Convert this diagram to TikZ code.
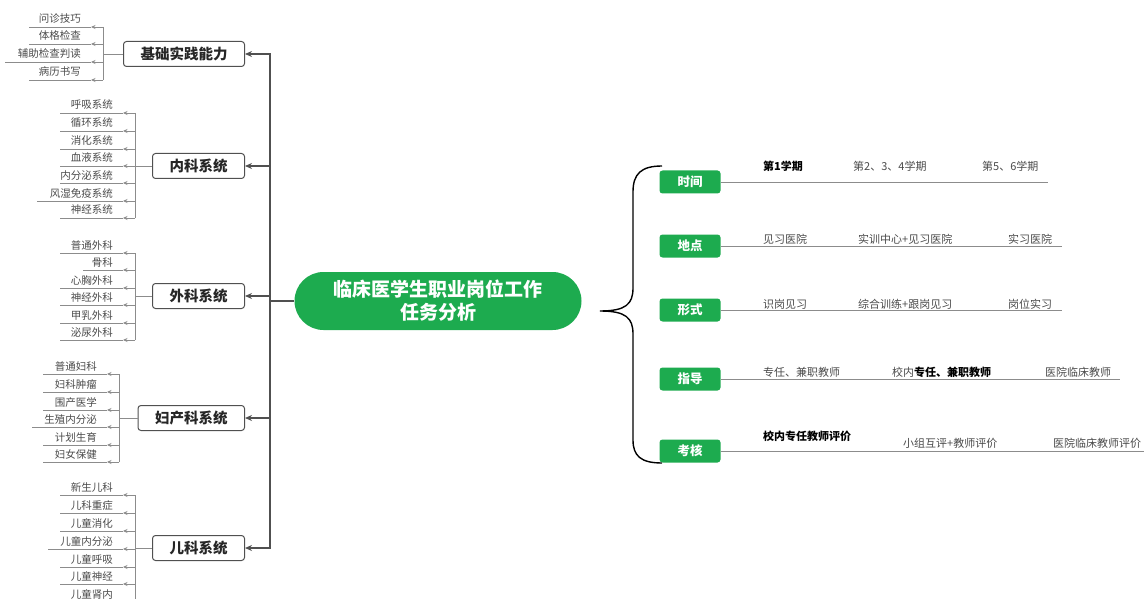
\documentclass[tikz,border=0pt]{standalone}
\usepackage{fontspec}
\setmainfont{Noto Sans CJK SC}
\usetikzlibrary{arrows.meta}
\definecolor{mmgreen}{HTML}{1DAB4F}
\definecolor{linegray}{HTML}{8C8C8C}
\definecolor{textgray}{HTML}{4A4A4A}
\definecolor{spinegray}{HTML}{505050}
\begin{document}
\begin{tikzpicture}[x=1pt,y=-1pt,
 catbox/.style={draw=spinegray, line width=1pt, rounded corners=3pt, fill=white,
   font=\fontsize{14.5}{16}\selectfont\bfseries, text=black!85, minimum height=25pt,
   inner xsep=17pt, inner ysep=0pt, anchor=east},
 leaf/.style={font=\fontsize{10.5}{12}\selectfont, text=textgray, anchor=base east, inner sep=0pt},
 leafln/.style={draw=linegray, line width=0.7pt},
 leafarr/.style={draw=linegray, line width=0.7pt, -{Stealth[length=4.5pt,width=4pt]}},
 spineln/.style={draw=spinegray, line width=1.7pt},
 spinearr/.style={draw=spinegray, line width=1.7pt, -{Stealth[length=7pt,width=6pt]}},
 tag/.style={fill=mmgreen, rounded corners=3pt, minimum width=61pt, minimum height=23pt,
   text=white, font=\fontsize{12.5}{14}\selectfont\bfseries, inner sep=0pt},
 rlabel/.style={font=\fontsize{11}{12}\selectfont, text=textgray, anchor=base west, inner sep=0pt},
 rline/.style={draw=linegray, line width=0.8pt},
]
\useasboundingbox (0,0) rectangle (1144,599);
\clip (0,0) rectangle (1144,599);

% root
\node[fill=mmgreen, rounded corners=29pt, minimum width=287pt, minimum height=58pt,
      text=white, align=center, font=\fontsize{19}{23}\selectfont\bfseries, inner sep=0pt]
  (root) at (438,301) {临床医学生职业岗位工作\\任务分析};

% category boxes
\node[catbox] (c1) at (245,54) {基础实践能力};
\node[catbox] (c2) at (245,166) {内科系统};
\node[catbox] (c3) at (245,296) {外科系统};
\node[catbox] (c4) at (245,418) {妇产科系统};
\node[catbox] (c5) at (245,548) {儿科系统};

% spine
\coordinate (sptop) at (270,54);
\coordinate (spbot) at (270,548);
\draw[spineln, line cap=rect] (sptop) -- (spbot);
\draw[spineln] (root.west) -- (root.west -| sptop);
\foreach \c in {c1,c2,c3,c4,c5}{
  \draw[spinearr] (\c.east -| sptop) -- (\c.east);
}

% group 1
\coordinate (b1) at (103,54);
\draw[leafln] (c1.west) -- (b1);
\draw[leafln] (103,27) -- (103,80);
\foreach \y/\t/\s [count=\i] in {27/问诊技巧/29,44/体格检查/29,62/辅助检查判读/5,80/病历书写/29}{
  \node[leaf] (l1-\i) at (81,\y-4) {\t};
  \draw[leafarr] (103,\y) -- (91,\y);
  \draw[leafln] (91,\y) -- (\s,\y);
}
% group 2
\coordinate (b2) at (135,166);
\draw[leafln] (c2.west) -- (b2);
\draw[leafln] (135,113) -- (135,218);
\foreach \y/\t/\s [count=\i] in {113/呼吸系统/60,131/循环系统/60,149/消化系统/60,166/血液系统/60,183/内分泌系统/60,201/风湿免疫系统/37,218/神经系统/60}{
  \node[leaf] (l2-\i) at (113,\y-4) {\t};
  \draw[leafarr] (135,\y) -- (123,\y);
  \draw[leafln] (123,\y) -- (\s,\y);
}
% group 3
\coordinate (b3) at (135,296);
\draw[leafln] (c3.west) -- (b3);
\draw[leafln] (135,253) -- (135,340);
\foreach \y/\t/\s [count=\i] in {253/普通外科/60,270/骨科/83,288/心胸外科/60,305/神经外科/60,323/甲乳外科/60,340/泌尿外科/60}{
  \node[leaf] (l3-\i) at (113,\y-4) {\t};
  \draw[leafarr] (135,\y) -- (123,\y);
  \draw[leafln] (123,\y) -- (\s,\y);
}
% group 4
\coordinate (b4) at (119,418);
\draw[leafln] (c4.west) -- (b4);
\draw[leafln] (119,374) -- (119,462);
\foreach \y/\t/\s [count=\i] in {374/普通妇科/43,392/妇科肿瘤/43,410/围产医学/43,427/生殖内分泌/32,445/计划生育/43,462/妇女保健/43}{
  \node[leaf] (l4-\i) at (97,\y-4) {\t};
  \draw[leafarr] (119,\y) -- (107,\y);
  \draw[leafln] (107,\y) -- (\s,\y);
}
% group 5
\coordinate (b5) at (135,548);
\draw[leafln] (c5.west) -- (b5);
\draw[leafln] (135,495) -- (135,602);
\foreach \y/\t/\s [count=\i] in {495/新生儿科/60,513/儿科重症/60,531/儿童消化/60,549/儿童内分泌/48,567/儿童呼吸/60,584/儿童神经/60,602/儿童肾内/60}{
  \node[leaf] (l5-\i) at (113,\y-4) {\t};
  \draw[leafarr] (135,\y) -- (123,\y);
  \draw[leafln] (123,\y) -- (\s,\y);
}

% brace
\draw[line width=1.4pt, black] (662,166) .. controls (641,166) and (633,174) .. (633,192)
  -- (633,288) .. controls (633,304) and (626,311) .. (600,311)
  .. controls (626,311) and (633,318) .. (633,334)
  -- (633,440) .. controls (633,456) and (641,463) .. (662,463);

% right tags
\node[tag] (t1) at (690,182) {时间};
\node[tag] (t2) at (690,246) {地点};
\node[tag] (t3) at (690,310) {形式};
\node[tag] (t4) at (690,379) {指导};
\node[tag] (t5) at (690,451) {考核};
\coordinate (e1) at (1048,182);
\coordinate (e2) at (1062,246);
\coordinate (e3) at (1062,310);
\coordinate (e4) at (1120,379);
\coordinate (e5) at (1150,451);
\draw[rline] (t1.east) -- (e1);
\draw[rline] (t2.east) -- (e2);
\draw[rline] (t3.east) -- (e3);
\draw[rline] (t4.east) -- (e4);
\draw[rline] (t5.east) -- (e5);

% labels
\node[rlabel, text=black] (a1) at (763,171) {\bfseries 第1学期};
\node[rlabel] (a2) at (853,171) {第2、3、4学期};
\node[rlabel] (a3) at (982,171) {第5、6学期};
\node[rlabel] (d1) at (763,243) {见习医院};
\node[rlabel] (d2) at (858,243) {实训中心+见习医院};
\node[rlabel] (d3) at (1008,243) {实习医院};
\node[rlabel] (f1) at (763,308) {识岗见习};
\node[rlabel] (f2) at (858,308) {综合训练+跟岗见习};
\node[rlabel] (f3) at (1008,308) {岗位实习};
\node[rlabel] (g1) at (763,376) {专任、兼职教师};
\node[rlabel] (g2) at (892,376) {校内{\color{black}\bfseries 专任、兼职教师}};
\node[rlabel] (g3) at (1045,376) {医院临床教师};
\node[rlabel, text=black] (k1) at (763,440) {\bfseries 校内专任教师评价};
\node[rlabel] (k2) at (903,447) {小组互评+教师评价};
\node[rlabel] (k3) at (1053,447) {医院临床教师评价};
\end{tikzpicture}
\end{document}
